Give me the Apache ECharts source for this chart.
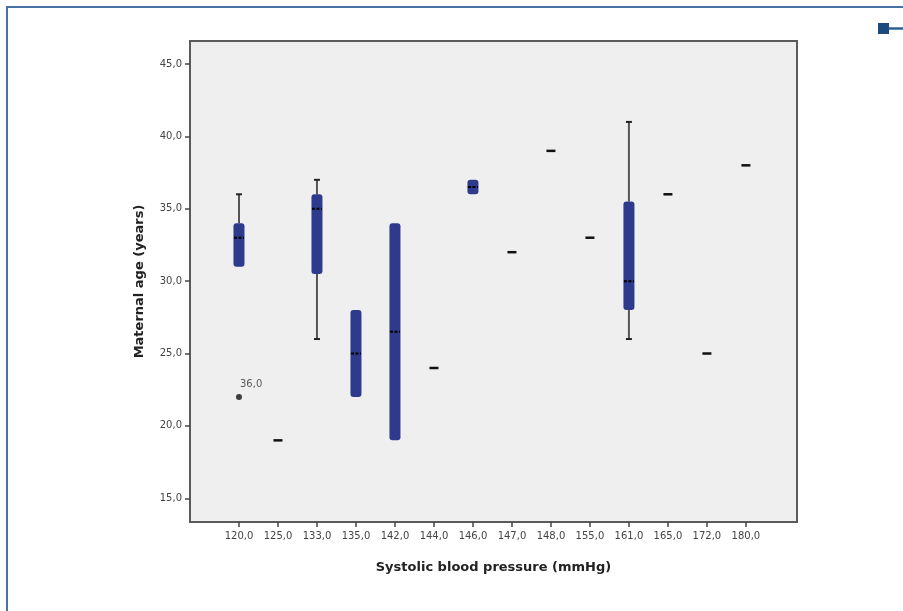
<!DOCTYPE html>
<html>
<head>
<meta charset="utf-8">
<script src="https://cdn.jsdelivr.net/npm/echarts@6/dist/echarts.min.js"></script>
<style>
  html, body { margin: 0; padding: 0; background: #fff; }
  #chart { width: 903px; height: 611px; }
</style>
</head>
<body>
<div id="chart"></div>
<script>
// systolic blood pressure groups
const categories = ['120,0', '125,0', '133,0', '135,0', '142,0', '144,0', '146,0',
  '147,0', '148,0', '155,0', '161,0', '165,0', '172,0', '180,0'];

// box plot stats per group (maternal age, years)
const whiskerLow = [31, 19, 26, 22, 19, 24, 36, 32, 39, 33, 26, 36, 25, 38];
const q1 = [31, 19, 30.5, 22, 19, 24, 36, 32, 39, 33, 28, 36, 25, 38];
const medians = [33, 19, 35, 25, 26.5, 24, 36.5, 32, 39, 33, 30, 36, 25, 38];
const q3 = [34, 19, 36, 28, 34, 24, 37, 32, 39, 33, 35.5, 36, 25, 38];
const whiskerHigh = [36, 19, 37, 28, 34, 24, 37, 32, 39, 33, 41, 36, 25, 38];

// outliers
const outlierCats = [0];
const outlierValues = [22];
const outlierLabels = ['36,0'];

const yTicks = [15, 20, 25, 30, 35, 40, 45];

const boxColor = '#2e3a8c';
const whiskerColor = '#555555';

const boxData = categories.map((c, i) => [i, whiskerLow[i], q1[i], medians[i], q3[i], whiskerHigh[i]]);
const outlierData = outlierCats.map((c, i) => ({ value: [c, outlierValues[i]], name: outlierLabels[i] }));

function renderBox(params, api) {
  const i = api.value(0);
  const low = api.value(1);
  const lo = api.value(2);
  const med = api.value(3);
  const hi = api.value(4);
  const high = api.value(5);
  const pLow = api.coord([i, low]);
  const pQ1 = api.coord([i, lo]);
  const pMed = api.coord([i, med]);
  const pQ3 = api.coord([i, hi]);
  const pHigh = api.coord([i, high]);
  const x = pMed[0];
  const children = [];
  const wStyle = { stroke: whiskerColor, lineWidth: 2 };

  if (high > hi) {
    children.push({ type: 'line', shape: { x1: x, y1: pQ3[1], x2: x, y2: pHigh[1] }, style: wStyle });
    children.push({ type: 'line', shape: { x1: x - 3, y1: pHigh[1], x2: x + 3, y2: pHigh[1] }, style: { stroke: '#222', lineWidth: 2 } });
  }
  if (low < lo) {
    children.push({ type: 'line', shape: { x1: x, y1: pQ1[1], x2: x, y2: pLow[1] }, style: wStyle });
    children.push({ type: 'line', shape: { x1: x - 3, y1: pLow[1], x2: x + 3, y2: pLow[1] }, style: { stroke: '#222', lineWidth: 2 } });
  }
  if (hi > lo) {
    children.push({
      type: 'rect',
      shape: { x: x - 5.5, y: pQ3[1], width: 11, height: pQ1[1] - pQ3[1], r: 3 },
      style: { fill: boxColor },
    });
    children.push({
      type: 'line',
      shape: { x1: x - 5, y1: pMed[1], x2: x + 5, y2: pMed[1] },
      style: { stroke: '#000', lineWidth: 2, lineDash: [3, 1.5] },
    });
  } else {
    children.push({
      type: 'line',
      shape: { x1: x - 4.5, y1: pMed[1], x2: x + 4.5, y2: pMed[1] },
      style: { stroke: '#111', lineWidth: 2.5 },
    });
  }
  return { type: 'group', children };
}

const chart = echarts.init(document.getElementById('chart'));

chart.setOption({
  animation: false,
  backgroundColor: '#ffffff',
  textStyle: { fontFamily: 'DejaVu Sans' },
  graphic: [
    { type: 'polyline', shape: { points: [[7, 611], [7, 7], [903, 7]] }, style: { stroke: '#4672a6', lineWidth: 2, fill: null } },
    { type: 'rect', shape: { x: 878, y: 23, width: 11, height: 11 }, style: { fill: '#1d4a7e' } },
    { type: 'line', shape: { x1: 889, y1: 28.5, x2: 903, y2: 28.5 }, style: { stroke: '#2f5f95', lineWidth: 2.5 } },
  ],
  grid: {
    left: 190,
    top: 41,
    width: 607,
    height: 481,
    show: true,
    backgroundColor: '#efefef',
    borderColor: '#5a5a5a',
    borderWidth: 2,
  },
  xAxis: {
    type: 'value',
    min: -1.256,
    max: 14.31,
    name: 'Systolic blood pressure (mmHg)',
    nameLocation: 'middle',
    nameGap: 39,
    nameTextStyle: { fontSize: 13, fontWeight: 'bold', color: '#222' },
    axisLine: { show: false, onZero: false },
    splitLine: { show: false },
    axisTick: { show: true, length: 5, lineStyle: { color: '#444', width: 1.5 }, customValues: categories.map((c, i) => i) },
    axisLabel: {
      fontSize: 10,
      color: '#444',
      margin: 9,
      customValues: categories.map((c, i) => i),
      formatter: (v) => categories[Math.round(v)],
    },
  },
  yAxis: {
    type: 'value',
    min: 13.36,
    max: 46.59,
    name: 'Maternal age (years)',
    nameLocation: 'middle',
    nameGap: 44,
    nameRotate: 90,
    nameTextStyle: { fontSize: 13, fontWeight: 'bold', color: '#222' },
    axisLine: { show: false, onZero: false },
    splitLine: { show: false },
    axisTick: { show: true, length: 5, lineStyle: { color: '#444', width: 1.5 }, customValues: yTicks },
    axisLabel: {
      fontSize: 10,
      color: '#444',
      margin: 8,
      customValues: yTicks,
      formatter: (v) => v.toFixed(1).replace('.', ','),
    },
  },
  series: [
    {
      type: 'custom',
      renderItem: renderBox,
      encode: { x: 0, y: [1, 2, 3, 4, 5] },
      data: boxData,
    },
    {
      type: 'scatter',
      symbol: 'circle',
      symbolSize: 6,
      itemStyle: { color: '#111' },
      label: {
        show: true,
        formatter: (p) => p.name,
        position: 'right',
        offset: [-7, -13],
        fontSize: 10,
        color: '#333',
      },
      data: outlierData,
    },
  ],
});
</script>
</body>
</html>
